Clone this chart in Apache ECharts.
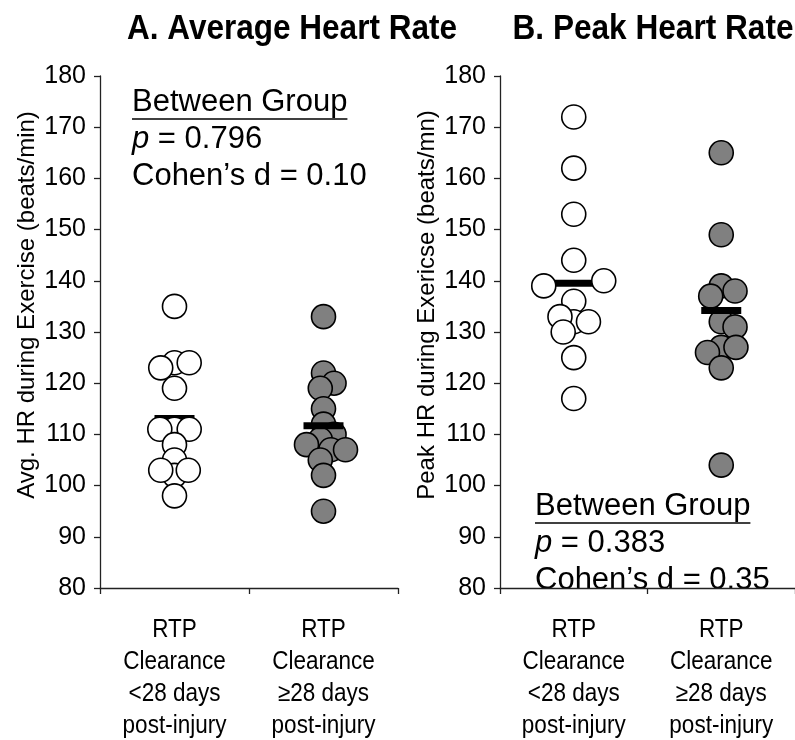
<!DOCTYPE html>
<html><head><meta charset="utf-8">
<script src="https://cdn.jsdelivr.net/npm/echarts@6/dist/echarts.min.js"></script>
<style>html,body{margin:0;padding:0;background:#fff}#c{width:795px;height:740px}</style>
</head><body><div id="c"></div>
<script>
// ---- data ----
const categories = ['RTP\nClearance\n<28 days\npost-injury', 'RTP\nClearance\n\u226528 days\npost-injury'];
const yMin = 80, yMax = 180, yStep = 10;
const avgEarly  = [135, 124, 124, 123, 119, 111, 111, 111, 108, 105, 102, 103, 103, 98];
const avgLate   = [133, 122, 120, 119, 115, 112, 110, 109, 108, 107, 107, 105, 102, 95];
const peakEarly = [172, 162, 153, 144, 140, 139, 136, 132, 132, 133, 130, 125, 117];
const peakLate  = [165, 149, 139, 138, 137, 132, 131, 127, 127, 126, 123, 104];
const avgMeans  = [113.1, 111.7];
const peakMeans = [139.5, 134.2];
const titles = ['A. Average Heart Rate', 'B. Peak Heart Rate'];
const yNames = ['Avg. HR during Exercise (beats/min)', 'Peak HR during Exericse (beats/mn)'];
const statsA = ['0.796', '0.10'];
const statsB = ['0.383', '0.35'];

// ---- fonts ----
const FONT = '"Liberation Sans", Arial, sans-serif';
const mctx = document.createElement('canvas').getContext('2d');
function textW(str, font) { mctx.font = font; return mctx.measureText(str).width; }

// ---- chart ----
const chart = echarts.init(document.getElementById('c'), null, {renderer: 'canvas'});
const GRID_TOP = 76, GRID_H = 512, GRID_W = 298;
const gridLefts = [100, 500];
const AX = '#222';

function xAxisFor(i) {
  return {
    type: 'category', gridIndex: i, data: categories, boundaryGap: true,
    axisLine: {show: true, lineStyle: {color: AX, width: 1.3}},
    axisTick: {show: true, interval: 0, length: 6, lineStyle: {color: AX, width: 1.3}},
    axisLabel: {show: false},
    splitLine: {show: false}
  };
}
function yAxisFor(i) {
  return {
    type: 'value', gridIndex: i, min: yMin, max: yMax, interval: yStep,
    axisLine: {show: true, onZero: false, lineStyle: {color: AX, width: 1.3}},
    axisTick: {show: true, length: 6, lineStyle: {color: AX, width: 1.3}},
    axisLabel: {color: '#000', fontSize: 25, margin: 14, fontFamily: FONT},
    splitLine: {show: false}
  };
}

chart.setOption({
  animation: false,
  backgroundColor: '#fff',
  grid: gridLefts.map(l => ({left: l, top: GRID_TOP, width: GRID_W, height: GRID_H, containLabel: false})),
  xAxis: [xAxisFor(0), xAxisFor(1)],
  yAxis: [yAxisFor(0), yAxisFor(1)],
  series: []
});

// beeswarm offsets (pixels) computed from the library's y scale.
// For groups whose mean bar lies beneath the markers, markers keep clear of the bar.
const MIN_DIST = 14.7, BAR_W = 40, BAR_H = 7, DOT = 24;
function swarm(values, yAxisIndex, barValue) {
  const px = values.map(v => chart.convertToPixel({yAxisIndex: yAxisIndex}, v));
  const barY = barValue == null ? null : chart.convertToPixel({yAxisIndex: yAxisIndex}, barValue);
  const clearX = BAR_W / 2 + DOT / 2 - 2;
  const placed = [];
  return values.map((v, i) => {
    const y = px[i];
    const nearBar = barY != null && Math.abs(barY - y) < 6;
    const cands = nearBar ? [-clearX, clearX] : [0];
    for (const p of placed) {
      const dy = Math.abs(p.y - y);
      if (dy < MIN_DIST) {
        const dx = Math.sqrt(MIN_DIST * MIN_DIST - dy * dy);
        cands.push(p.x + dx, p.x - dx);
      }
    }
    cands.sort((a, b) => Math.abs(a) - Math.abs(b) || b - a);
    let chosen = cands[0];
    for (const c of cands) {
      if (nearBar && Math.abs(c) < clearX - 0.01) continue;
      let ok = true;
      for (const p of placed) {
        if (Math.hypot(p.x - c, p.y - y) < MIN_DIST - 0.01) { ok = false; break; }
      }
      if (ok) { chosen = c; break; }
    }
    placed.push({x: chosen, y: y});
    return chosen;
  });
}
function dots(values, cat, gi, fill, z, barValue) {
  const offs = swarm(values, gi, barValue);
  return {
    type: 'scatter', xAxisIndex: gi, yAxisIndex: gi, symbol: 'circle', symbolSize: DOT, z: z, silent: true,
    data: values.map((v, i) => ({value: [cat, v], symbolOffset: [offs[i], 0]})),
    itemStyle: {color: fill, borderColor: '#000', borderWidth: 1.6, opacity: 1}
  };
}
function bar(mean, cat, gi, z) {
  return {
    type: 'scatter', xAxisIndex: gi, yAxisIndex: gi, data: [[cat, mean]], symbol: 'rect',
    symbolSize: [BAR_W, BAR_H], z: z, silent: true, itemStyle: {color: '#000', opacity: 1}
  };
}

// text blocks
function statBlock(x, y, s) {
  const fs = 31, lh = 37, f = fs + 'px ' + FONT;
  const w = textW('Between Group', f);
  return [
    {type: 'text', left: x, top: y, style: {text: 'Between Group', font: f, fill: '#000'}},
    {type: 'line', shape: {x1: x, y1: y + 32, x2: x + w, y2: y + 32}, style: {stroke: '#000', lineWidth: 1.6}},
    {type: 'text', left: x, top: y + lh, style: {
      text: '{i|p} = ' + s[0], font: f, fill: '#000',
      rich: {i: {fontStyle: 'italic', fontSize: fs, fontFamily: 'Liberation Sans', fill: '#000'}}
    }},
    {type: 'text', left: x, top: y + 2 * lh, style: {text: 'Cohen\u2019s d = ' + s[1], font: f, fill: '#000'}}
  ];
}
function yName(x, txt) {
  return {type: 'text', x: x, y: 305, rotation: Math.PI / 2,
    style: {text: txt, font: '24px ' + FONT, fill: '#000', align: 'center', verticalAlign: 'middle'}};
}
// condensed-looking text via horizontal scaling
function narrowText(x, y, txt, font, sx, extra) {
  return {type: 'text', x: x, y: y, scaleX: sx, scaleY: 1,
    style: Object.assign({text: txt, font: font, fill: '#000', align: 'center', verticalAlign: 'middle'}, extra || {})};
}
const titleFont = 'bold 35px ' + FONT;
const graphics = [
  narrowText(292, 29, titles[0], titleFont, 330 / textW(titles[0], titleFont)),
  narrowText(653, 29, titles[1], titleFont, 281 / textW(titles[1], titleFont)),
  yName(27, yNames[0]), yName(427, yNames[1])
].concat(statBlock(132, 87, statsA), statBlock(535, 491, statsB));

// category labels positioned through the category axes
const axisY = chart.convertToPixel({yAxisIndex: 0}, yMin);
[0, 1].forEach(gi => {
  categories.forEach((c, ci) => {
    const cx = chart.convertToPixel({xAxisIndex: gi}, ci);
    graphics.push(narrowText(cx, axisY + 26, c, '25px ' + FONT, 0.9, {verticalAlign: 'top', lineHeight: 32}));
  });
});

chart.setOption({
  series: [
    bar(avgMeans[0], 0, 0, 1),
    dots(avgEarly, 0, 0, '#fff', 2, avgMeans[0]),
    dots(avgLate, 1, 0, '#808080', 3, null),
    bar(avgMeans[1], 1, 0, 4),
    bar(peakMeans[0], 0, 1, 1),
    dots(peakEarly, 0, 1, '#fff', 2, peakMeans[0]),
    dots(peakLate, 1, 1, '#808080', 3, null),
    bar(peakMeans[1], 1, 1, 4)
  ],
  graphic: graphics
});
</script></body></html>
